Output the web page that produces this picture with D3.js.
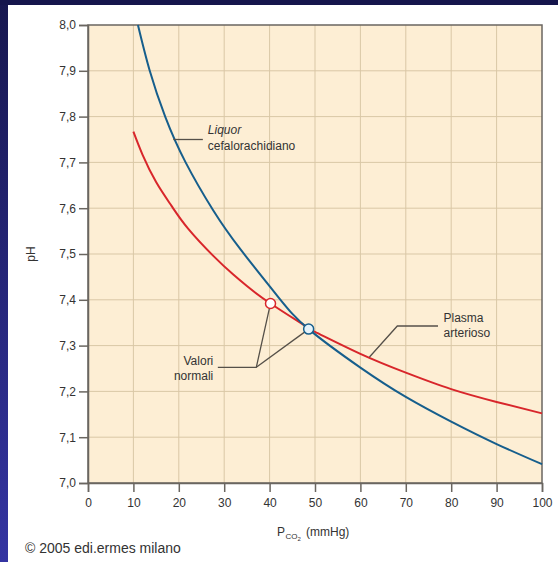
<!DOCTYPE html>
<html><head><meta charset="utf-8">
<script src="https://cdn.jsdelivr.net/npm/d3@7"></script>
<style>body{margin:0;background:#fff}svg{display:block}text{font-family:"Liberation Sans",Arial,Helvetica,sans-serif}</style>
</head><body>
<svg id="chart" width="558" height="562"></svg>
<script>
// ---- data ----
const xTicks = [0,10,20,30,40,50,60,70,80,90,100];
const yTicks = [7.0,7.1,7.2,7.3,7.4,7.5,7.6,7.7,7.8,7.9,8.0];
const liquorPCO2 = [11, 13.6, 17, 21.5, 27.6, 33.6, 42, 48.6, 60, 70, 80, 90, 100];
const liquorPH   = [8.0, 7.9, 7.8, 7.7, 7.595, 7.51, 7.405, 7.336, 7.252, 7.188, 7.134, 7.085, 7.041];
const plasmaPCO2 = [10, 12, 15, 18.4, 22, 27.6, 32, 35, 40.2, 48.6, 50, 60, 70, 80, 90, 100];
const plasmaPH   = [7.767, 7.717, 7.657, 7.605, 7.556, 7.496, 7.455, 7.43, 7.392, 7.338, 7.330, 7.282, 7.241, 7.205, 7.177, 7.152];
const normalPCO2 = [40.2, 48.6];
const normalPH   = [7.392, 7.336];

const svg = d3.select("#chart");
const W = 558, H = 562;

// background frame
const defs = svg.append("defs");
const g1 = defs.append("linearGradient").attr("id","lg").attr("x1",0).attr("y1",0).attr("x2",0).attr("y2",1);
g1.append("stop").attr("offset","0%").attr("stop-color","#17174f");
g1.append("stop").attr("offset","100%").attr("stop-color","#3434a2");
svg.append("rect").attr("x",0).attr("y",0).attr("width",W).attr("height",H).attr("fill","#fff");
svg.append("rect").attr("x",0).attr("y",0).attr("width",8).attr("height",H).attr("fill","url(#lg)");
svg.append("rect").attr("x",0).attr("y",0).attr("width",W).attr("height",5).attr("fill","#15154c");

const x = d3.scaleLinear().domain([0,100]).range([88,542]);
const y = d3.scaleLinear().domain([7,8]).range([483,25]);

// plot background
svg.append("rect").attr("x",x(0)).attr("y",y(8)).attr("width",x(100)-x(0)).attr("height",y(7)-y(8)).attr("fill","#fdeed4");

// grid
svg.append("g").selectAll("line").data(xTicks.slice(1,-1)).join("line")
  .attr("x1",d=>x(d)).attr("x2",d=>x(d)).attr("y1",y(7)).attr("y2",y(8))
  .attr("stroke","#d9c7a6").attr("stroke-width",1);
svg.append("g").selectAll("line").data(yTicks.slice(1,-1)).join("line")
  .attr("y1",d=>y(d)).attr("y2",d=>y(d)).attr("x1",x(0)).attr("x2",x(100))
  .attr("stroke","#d9c7a6").attr("stroke-width",1);

// frame
svg.append("rect").attr("x",x(0)).attr("y",y(8)).attr("width",x(100)-x(0)).attr("height",y(7)-y(8))
  .attr("fill","none").attr("stroke","#6a6660").attr("stroke-width",1.5);

// axes
const fmt = d=>d3.format(".1f")(d).replace(".",",");
const yAxis = d3.axisLeft(y).tickValues(yTicks).tickFormat(fmt).tickSize(9).tickPadding(3);
const gy = svg.append("g").attr("transform",`translate(${x(0)},0)`).call(yAxis);
const xAxis = d3.axisBottom(x).tickValues(xTicks).tickSize(9).tickPadding(6);
const gx = svg.append("g").attr("transform",`translate(0,${y(7)})`).call(xAxis);
[gx,gy].forEach(g=>{
  g.select(".domain").attr("stroke","#6a6660").attr("stroke-width",1.5);
  g.selectAll(".tick line").attr("stroke","#6a6660").attr("stroke-width",1.5);
  g.selectAll(".tick text").attr("fill","#333").attr("font-size",12).attr("font-family","Liberation Sans, Arial, sans-serif");
});

// curves
const line = d3.line().x(d=>x(d[0])).y(d=>y(d[1])).curve(d3.curveNatural);
svg.append("path").datum(plasmaPCO2.map((p,i)=>[p,plasmaPH[i]])).attr("d",line)
  .attr("fill","none").attr("stroke","#d8262b").attr("stroke-width",2);
svg.append("path").datum(liquorPCO2.map((p,i)=>[p,liquorPH[i]])).attr("d",line)
  .attr("fill","none").attr("stroke","#165e8c").attr("stroke-width",2);

// annotation leaders
const lc = "#555049";
const leader = pts => svg.append("path").attr("d", d3.line()(pts.map(p=>[x(p[0]),y(p[1])])))
  .attr("fill","none").attr("stroke",lc).attr("stroke-width",1.3);
leader([[18.8,7.75],[25.3,7.75]]);
leader([[28.6,7.2526],[37.07,7.2526],[normalPCO2[0],normalPH[0]]]);
leader([[37.07,7.2526],[normalPCO2[1],normalPH[1]]]);
leader([[62.0,7.275],[68.13,7.3428],[77.1,7.3428]]);

// normal-value markers
svg.append("circle").attr("cx",x(normalPCO2[0])).attr("cy",y(normalPH[0])).attr("r",5)
  .attr("fill","#fff").attr("stroke","#d8262b").attr("stroke-width",1.5);
svg.append("circle").attr("cx",x(normalPCO2[1])).attr("cy",y(normalPH[1])).attr("r",5)
  .attr("fill","#e6f3fa").attr("stroke","#165e8c").attr("stroke-width",1.5);

// labels
const txt = (t,px,py,opt={}) => svg.append("text").attr("x",x(px)).attr("y",y(py)).text(t)
  .attr("font-size",opt.size||12).attr("fill","#333")
  .attr("text-anchor",opt.anchor||"start").attr("font-style",opt.italic?"italic":"normal");
txt("Liquor",26.4,7.7615,{italic:true});
txt("cefalorachidiano",26.4,7.7275);
txt("Valori",27.6,7.2576,{anchor:"end"});
txt("normali",27.6,7.2249,{anchor:"end"});
txt("Plasma",78.3,7.3522);
txt("arterioso",78.3,7.3194);

// axis titles
svg.append("text").attr("transform","translate(35,254) rotate(-90)").attr("text-anchor","middle")
  .attr("font-size",12).attr("fill","#333").text("pH");
svg.append("text").attr("x",277).attr("y",536).attr("font-size",12).attr("fill","#333").text("P");
svg.append("text").attr("x",285.5).attr("y",539).attr("font-size",8).attr("fill","#333").text("CO");
svg.append("text").attr("x",297.5).attr("y",541).attr("font-size",6).attr("fill","#333").text("2");
svg.append("text").attr("x",306).attr("y",536).attr("font-size",12).attr("fill","#333").text("(mmHg)");

// copyright
svg.append("text").attr("x",25).attr("y",553).attr("font-size",14).attr("fill","#333").text("© 2005 edi.ermes milano");
</script>
</body></html>
